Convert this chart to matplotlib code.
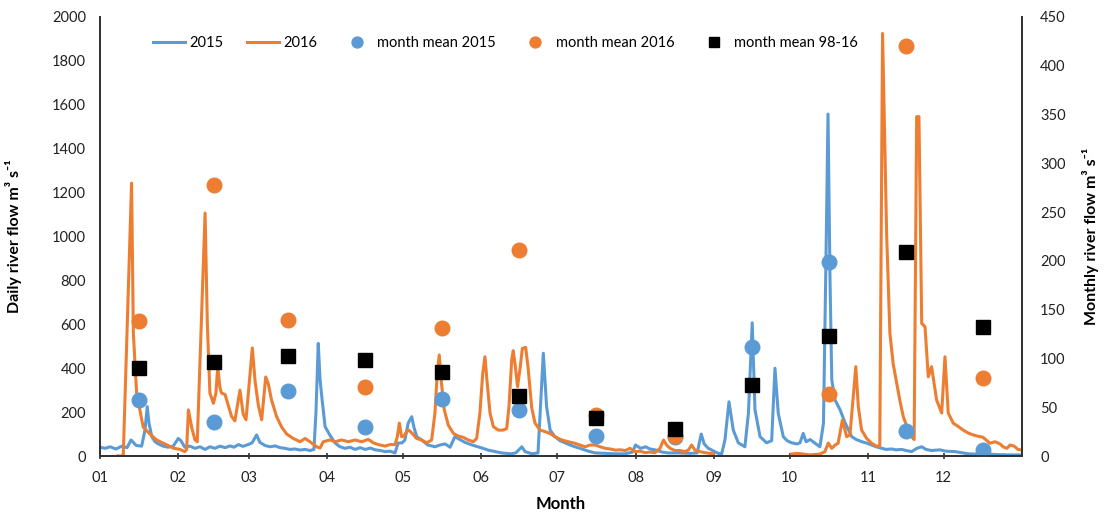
import numpy as np
import matplotlib
matplotlib.use('Agg')
import matplotlib.pyplot as plt

plt.rcParams['font.family'] = ['Lato', 'DejaVu Sans']

# day of year (0 = 1 Jan) and daily river flow
day_2015 = [0, 2, 4, 6.3, 8.7, 10.7, 12.3, 14.3, 16.5, 17.8,
            18.7, 19.4, 20.5, 21.8, 23.1, 25, 27, 29, 31, 32,
            33.6, 35.6, 37.6, 39.6, 41.6, 43.5, 45.5, 47.5, 49.5, 51.5,
            53, 54.8, 56.6, 58.6, 60.2, 62, 63.3, 65.3, 67.3, 69.3,
            71.3, 73.2, 75.2, 77.2, 79.2, 81.2, 83.1, 84.7, 85.5, 86.4,
            87.1, 87.8, 89.1, 91, 93, 95, 97, 99, 101, 103,
            105, 107, 109, 111, 112.8, 114.8, 116.8, 118, 119.6, 120.7,
            122, 123.4, 124.3, 125.4, 127.3, 129.8, 132.6, 134.6, 136.6, 138.6,
            140.5, 141.7, 144.5, 147.3, 149.6, 151.6, 153.6, 156.4, 159, 160.7,
            163, 164.7, 167, 168.3, 171, 173.4, 174.6, 175.5, 176.8, 178.2,
            180.1, 182.1, 184.1, 186.1, 188, 190, 192, 194, 196, 200,
            204, 208, 210.8, 212, 214, 216, 217.7, 219.7, 222.5, 224.9,
            229.6, 233.6, 236.4, 238, 239.2, 240.8, 242.2, 244.7, 246.1, 247.4,
            249, 250.7, 252.7, 254.1, 255.3, 256.7, 258.2, 259.3, 261.3, 263.9,
            265.9, 267.2, 268.5, 270.5, 272, 273.8, 276, 277.1, 278.4, 279.5,
            281.1, 283.1, 285, 286.4, 287.4, 288.2, 289, 289.7, 291, 293,
            295, 297.6, 299.4, 301.6, 303.2, 305.5, 307.2, 309.5, 311.2, 313.4,
            315.1, 317.4, 319.1, 321.3, 323.4, 325.3, 327, 329.2, 332.5, 334.9,
            338.5, 341.2, 343.7, 348.4, 352.3, 356.3, 360.3, 364.9]
flow_2015 = [40, 35, 42, 32, 45, 38, 73, 48, 45, 118,
             225, 150, 88, 65, 55, 45, 40, 45, 80, 70,
             40, 45, 35, 42, 30, 42, 35, 45, 38, 46,
             40, 52, 44, 52, 60, 96, 62, 48, 42, 46,
             38, 35, 30, 32, 27, 30, 25, 30, 200, 513,
             350, 270, 134, 95, 60, 42, 35, 40, 30, 38,
             30, 36, 28, 25, 20, 22, 14, 59, 60, 73,
             150, 179, 130, 88, 73, 50, 42, 50, 55, 40,
             88, 80, 62, 50, 42, 35, 27, 20, 14, 12,
             10, 15, 42, 20, 10, 14, 270, 468, 225, 118,
             88, 70, 60, 50, 42, 35, 27, 20, 14, 12,
             10, 10, 18, 50, 35, 42, 32, 28, 18, 14,
             14, 12, 14, 100, 55, 35, 27, 12, 10, 73,
             247, 118, 60, 50, 42, 195, 607, 210, 88, 60,
             70, 400, 195, 88, 70, 60, 55, 60, 103, 65,
             75, 58, 42, 149, 900, 1558, 800, 346, 255, 210,
             150, 88, 75, 65, 60, 50, 42, 35, 30, 32,
             28, 30, 25, 20, 35, 42, 30, 25, 28, 22,
             20, 15, 10, 8, 8, 6, 5, 5]

# 2016 has no data in September (nan breaks the line)
day_2016 = [7, 9.2, 12.5, 13.2, 14.5, 17.1, 19.8, 22.4, 25.7, 29,
            31.7, 33.6, 34.3, 35, 36.3, 37.6, 38.5, 41.6, 42.5, 43.5,
            44.9, 45.9, 46.6, 47.5, 48.1, 49.5, 50.8, 52.1, 53.4, 55.4,
            56.7, 57.8, 60.3, 61.4, 62.7, 64, 65.6, 66.6, 67.9, 69.9,
            71.9, 73.9, 76.5, 79.2, 81.2, 83.1, 85.8, 87.1, 88.4, 91,
            93, 95.7, 98.3, 101, 103.6, 106.2, 108.2, 110.2, 112.8, 114.8,
            116.8, 117.7, 118.5, 119.4, 120.3, 121.4, 122.3, 123.6, 125.3, 127.3,
            129.3, 131.3, 132.6, 133.5, 134.3, 135.2, 136.3, 137.9, 139.9, 141.8,
            143.8, 145.8, 147.8, 149.1, 150.4, 151.5, 152.4, 153.3, 154.4, 155.7,
            157.7, 159.6, 161, 161.9, 163, 163.6, 164.5, 165.3, 166.3, 167.2,
            168.5, 169.5, 170.9, 172.2, 174.2, 176.2, 178.1, 180.1, 182.8, 185.4,
            188, 190, 192, 194, 196, 198, 200, 202, 204, 206,
            208, 209.8, 211.8, 213.8, 215.8, 217.8, 219.7, 221.7, 223.1, 224.3,
            225.7, 227.6, 229.6, 231.6, 233, 234.2, 235.5, 237.5, 239.5, 242.8,
            243.5, 273.8, 276, 278.4, 281.1, 285, 287, 288.3, 289.7, 291,
            292.2, 293.9, 295.6, 296.9, 298.2, 299.2, 300.2, 301.5, 303.5, 305.5,
            307.4, 308.7, 309.8, 311.4, 312.7, 314, 315.4, 316.7, 318, 319.9,
            321.3, 322.3, 323.3, 324.2, 325.3, 326.6, 327.9, 329.2, 331.2, 333.2,
            334.5, 335.8, 337.8, 339.7, 341.7, 343.6, 345.7, 347.6, 349.6, 352.3,
            354.3, 356.3, 357.5, 359, 360.3, 361.9, 363.4, 364.9]
flow_2016 = [0, 0, 1243, 560, 287, 132, 100, 73, 55, 36,
             30, 20, 30, 210, 130, 73, 65, 1107, 600, 287,
             240, 287, 406, 310, 287, 280, 230, 180, 160, 300,
             190, 165, 492, 340, 230, 165, 360, 330, 255, 180,
             132, 100, 80, 65, 80, 65, 42, 36, 65, 73,
             65, 73, 65, 73, 65, 76, 60, 52, 45, 52,
             52, 88, 150, 88, 91, 111, 118, 103, 80, 73,
             60, 73, 196, 375, 460, 330, 210, 140, 103, 91,
             85, 73, 65, 80, 196, 375, 452, 330, 196, 134,
             118, 118, 125, 225, 440, 480, 400, 316, 400, 490,
             495, 400, 220, 150, 118, 111, 103, 88, 73, 65,
             58, 50, 42, 50, 50, 42, 35, 32, 27, 28,
             25, 35, 20, 22, 15, 18, 15, 35, 73, 50,
             35, 25, 25, 20, 28, 50, 27, 20, 15, 10,
             np.nan, 9, 12, 9, 5, 9, 20, 59, 35, 50,
             58, 164, 88, 96, 270, 407, 225, 118, 80, 58,
             45, 45, 1925, 1015, 560, 420, 332, 250, 179, 120,
             88, 75, 1546, 1546, 604, 589, 361, 407, 255, 196,
             452, 196, 149, 135, 118, 105, 96, 90, 85, 58,
             65, 55, 42, 35, 50, 45, 30, 27]

month_labels = ['01', '02', '03', '04', '05', '06', '07', '08', '09', '10', '11', '12']
month_start = [0, 31, 59, 90, 120, 151, 181, 212, 243, 273, 304, 334]
month_mid = [15.5, 45, 74.5, 105, 135.5, 166, 196.5, 227.5, 258, 288.5, 319, 349.5]

mean_2015 = [57, 35, 67, 30, 58, 47, 20, 19, 112, 199, 26, 6]
mean_2016 = [138, 278, 139, 71, 131, 211, 42, 20, np.nan, 64, 420, 80]
mean_9816 = [90, 96, 102, 98, 86, 61, 39, 28, 73, 123, 209, 132]

blue = '#5B9BD5'
orange = '#ED7D31'
axis_col = '#333333'

fig = plt.figure(figsize=(11.09, 5.15), dpi=100)
ax = fig.add_axes([100 / 1109, 59 / 515, 922 / 1109, 439 / 515])
ax2 = ax.twinx()

l1, = ax.plot(day_2015, flow_2015, color=blue, lw=2.2, label='2015')
l2, = ax.plot(day_2016, flow_2016, color=orange, lw=2.2, label='2016')
m1, = ax2.plot(month_mid, mean_2015, 'o', color=blue, ms=10.5, label='month mean 2015')
m2, = ax2.plot(month_mid, mean_2016, 'o', color=orange, ms=10.5, label='month mean 2016')
m3, = ax2.plot(month_mid, mean_9816, 's', color='black', ms=9.5, label='month mean 98-16')

ax.set_xlim(0, 365)
ax.set_ylim(0, 2000)
ax2.set_ylim(0, 450)
ax.set_yticks(range(0, 2001, 200))
ax2.set_yticks(range(0, 451, 50))
ax.set_xticks(month_start)
ax.set_xticklabels(month_labels)

ax.tick_params(axis='y', length=0, labelsize=10.5, pad=10, labelcolor='#222222')
ax2.tick_params(axis='y', length=0, labelsize=10.5, pad=13, labelcolor='#222222')
ax.tick_params(axis='x', direction='inout', length=5, width=1.2, color=axis_col,
               labelsize=10.5, pad=8, labelcolor='#222222')

for a in (ax, ax2):
    a.spines['top'].set_visible(False)
    for s in ('left', 'right', 'bottom'):
        a.spines[s].set_color(axis_col)
        a.spines[s].set_linewidth(1.3)

ax.set_ylabel('Daily river flow m³ s⁻¹', fontsize=11.5, fontweight='bold', labelpad=22)
ax2.set_ylabel('Monthly river flow m³ s⁻¹', fontsize=11.5, fontweight='bold', labelpad=12)
ax.set_xlabel('Month', fontsize=12, fontweight='bold', labelpad=8)

ax2.legend([l1, l2, m1, m2, m3], [h.get_label() for h in (l1, l2, m1, m2, m3)],
           loc='center', bbox_to_anchor=(0.44, 0.94), ncol=5, frameon=False,
           fontsize=10.5, handlelength=2.2, handletextpad=0.3, columnspacing=1.6,
           markerscale=0.75)

fig.savefig('out.png', dpi=100)
